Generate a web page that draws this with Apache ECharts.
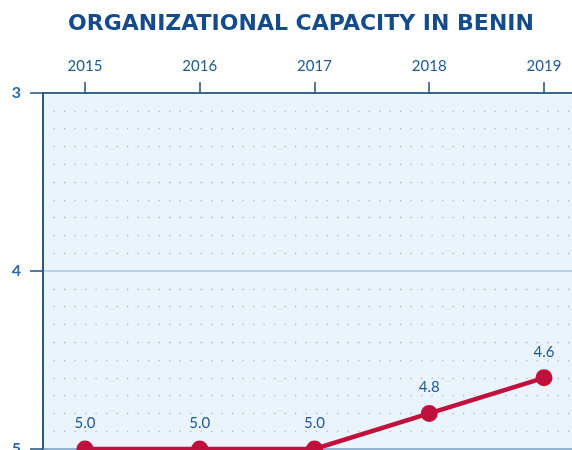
<!DOCTYPE html>
<html>
<head>
<meta charset="utf-8">
<script src="https://cdn.jsdelivr.net/npm/echarts@6/dist/echarts.min.js"></script>
<style>
  html, body { margin: 0; padding: 0; background: #fff; }
  #chart { width: 572px; height: 450px; }
</style>
</head>
<body>
<div id="chart"></div>
<script>
// data
const years = [2015, 2016, 2017, 2018, 2019];
const capacity = [5.0, 5.0, 5.0, 4.8, 4.6];
const yTicks = [3, 4, 5];

const chart = echarts.init(document.getElementById('chart'));

const option = {
  backgroundColor: '#ffffff',
  title: {
    text: 'ORGANIZATIONAL CAPACITY IN BENIN',
    left: 63,
    top: 8,
    textStyle: {
      fontFamily: 'DejaVu Sans',
      fontWeight: 'bold',
      fontSize: 22,
      color: '#154b8a'
    }
  },
  grid: {
    left: 43,
    right: -4,
    top: 93,
    bottom: 1,
    outerBoundsMode: 'none',
    containLabel: false,
    show: true,
    backgroundColor: '#ebf3fc',
    borderColor: '#1f4f7c',
    borderWidth: 1.5
  },
  xAxis: {
    type: 'value',
    position: 'top',
    min: 2015 - 42 / 114.75,
    max: 2015 + 491 / 114.75,
    axisLine: { show: true, lineStyle: { color: '#1f4f7c', width: 1.5 } },
    axisTick: {
      show: true,
      length: 11,
      customValues: years,
      lineStyle: { color: '#1f4f7c', width: 1.5 }
    },
    axisLabel: {
      customValues: years,
      margin: 19,
      fontFamily: 'Lato',
      fontSize: 15,
      color: '#1d5a94',
      formatter: v => String(v)
    },
    splitLine: { show: false }
  },
  yAxis: {
    type: 'value',
    inverse: true,
    min: 3,
    max: 5,
    interval: 1,
    axisLine: { show: true, lineStyle: { color: '#1f4f7c', width: 1.5 } },
    axisTick: { show: true, length: 13, lineStyle: { color: '#1f4f7c', width: 1.5 } },
    axisLabel: {
      customValues: yTicks,
      margin: 22,
      fontFamily: 'Lato',
      fontWeight: 'bold',
      fontSize: 16,
      color: '#2a6cab'
    },
    splitLine: { show: true, lineStyle: { color: '#a8c7e6', width: 1.5 } },
    minorTick: { show: false, splitNumber: 10 },
    minorSplitLine: {
      show: true,
      lineStyle: { color: '#a9bbd0', width: 1.3, type: [1.3, 9.2] }
    }
  },
  series: [{
    type: 'line',
    data: years.map((y, i) => [y, capacity[i]]),
    symbol: 'circle',
    symbolSize: 17,
    lineStyle: { color: '#c0103c', width: 4.5 },
    itemStyle: { color: '#c0103c' },
    label: {
      show: true,
      position: 'top',
      distance: 10,
      fontFamily: 'Lato',
      fontSize: 15,
      color: '#1d5a94',
      formatter: p => p.value[1].toFixed(1)
    },
    z: 5
  }]
};

chart.setOption(option);
</script>
</body>
</html>
